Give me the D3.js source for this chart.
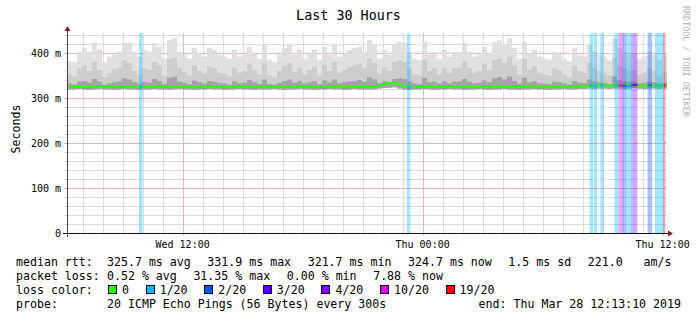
<!DOCTYPE html>
<html>
<head>
<meta charset="utf-8">
<script src="https://cdn.jsdelivr.net/npm/d3@7"></script>
<style>
  body { margin: 0; background: #fff; }
  svg text { font-family: "DejaVu Sans Mono", monospace; white-space: pre; }
</style>
</head>
<body>
<svg id="chart"></svg>
<script>
// ---- data ----
// 120 slots of 15 minutes over the last 30 hours, values in ms
const smokeMax = [
  381,377,403,411,403,422,407,377,392,396, 403,422,422,403,392,407,403,422,414,388,
  429,433,403,396,388,411,399,392,411,407, 396,392,388,407,392,396,414,399,388,418,
  385,377,396,411,418,396,407,388,399,407, 385,414,396,418,392,399,407,411,414,403,
  429,418,388,407,396,418,425,422,403,388, 385,425,396,403,388,407,392,403,403,422,
  403,392,396,414,399,425,429,418,433,411, 388,425,399,407,392,388,385,403,399,388,
  381,411,396,392,418,403,396,392,385,433, 411,403,396,399,388,392,403,396,385,396
];
const smokeMid = [
  352,348,366,372,360,380,362,346,356,364, 368,384,378,360,352,366,362,380,372,350,
  386,390,366,358,350,372,360,354,370,366, 356,354,348,368,356,360,376,362,352,378,
  350,346,360,372,378,358,368,352,362,370, 350,374,360,380,356,362,368,372,376,366,
  388,378,354,368,360,380,384,380,366,352, 350,386,360,366,352,368,356,366,368,382,
  366,356,360,376,362,384,388,378,392,372, 352,386,362,370,356,352,350,366,362,352,
  346,372,360,356,378,366,360,356,350,390, 372,366,360,362,352,356,366,360,350,358
];
const smokeDark = [
  332,330,336,338,334,342,336,330,333,335, 337,344,341,335,332,336,334,342,338,331,
  345,347,336,334,331,339,335,332,338,336, 333,332,330,337,333,334,340,335,331,341,
  331,330,334,338,341,334,337,332,335,337, 331,339,334,341,333,335,337,338,340,336,
  346,341,333,337,335,342,344,342,337,332, 331,345,335,336,332,337,333,336,337,342,
  336,333,334,339,335,344,346,341,348,338, 332,345,335,337,333,332,331,336,335,332,
  330,338,334,333,341,337,335,334,331,348, 340,337,336,336,333,334,337,335,332,334
];
const smokeMin = [
  319,319,320,319,318,319,320,319,319,318, 319,320,319,319,318,319,319,320,319,319,
  318,319,320,319,319,318,319,319,320,319, 319,318,319,319,320,319,319,318,319,319,
  319,320,319,318,319,319,320,319,319,318, 319,319,320,319,319,318,319,320,319,319,
  319,319,321,322,323,324,321,319,318,319, 319,320,319,318,319,319,320,319,319,318,
  319,319,320,319,318,319,319,320,319,319, 318,319,319,320,319,319,318,319,319,320,
  319,319,320,320,321,320,321,321,320,321, 321,320,321,322,321,320,321,321,320,321
];
const median = [
  325,326,325,324,325,326,325,325,326,325, 324,325,325,326,325,325,324,325,326,325,
  325,324,325,326,325,325,324,325,326,325, 325,324,325,325,326,325,325,324,325,326,
  325,325,326,325,324,325,325,326,325,325, 324,325,326,325,325,325,324,325,325,326,
  325,325,328,331,332,335,330,326,325,324, 325,325,326,325,324,325,325,326,325,325,
  325,325,324,325,325,326,325,325,324,325, 325,326,325,325,324,325,325,326,325,325,
  325,325,326,327,328,327,328,328,327,328, 328,327,328,329,328,327,328,328,327,328
];
// loss events: minutes from window start, duration in minutes, lost pings of 20
const lossStart = [216, 1020, 1568, 1580, 1600, 1642, 1655, 1667, 1679, 1691, 1697, 1742, 1764, 1791];
const lossMins  = [ 11,   10,   10,   10,   10,   13,   13,   12,   12,    6,   14,   13,   27,    4];
const lossCount = [  1,    1,    1,    1,    1,    1,   10,    2,    1,    2,    4,    2,    1,   19];

const lossLevels = [0, 1, 2, 3, 4, 10, 19];
const lossLabels = ["0", "1/20", "2/20", "3/20", "4/20", "10/20", "19/20"];
const lossColors = ["#26ff00", "#00b8ff", "#0059ff", "#5e00ff", "#7e00ff", "#dd00ff", "#ff0000"];

const yTicks = [0, 100, 200, 300, 400];
const yTickLabels = ["0", "100 m", "200 m", "300 m", "400 m"];
const xTickLabels = ["Wed 12:00", "Thu 00:00", "Thu 12:00"];

const statsRtt = ["325.7 ms avg", "331.9 ms max", "321.7 ms min", "324.7 ms now", "1.5 ms sd", "221.0   am/s"];
const statsLoss = ["0.52 % avg", "31.35 % max", "0.00 % min", "7.88 % now"];
const probeText = "20 ICMP Echo Pings (56 Bytes) every 300s";
const endText = "end: Thu Mar 28 12:13:10 2019";

// ---- layout ----
const width = 697, height = 321;
const plotL = 67, plotR = 667, plotT = 33, plotB = 233;
const cw = 6.97;          // legend char width
const gap = 16.7;

const svg = d3.select("#chart").attr("width", width).attr("height", height);
svg.append("rect").attr("width", width).attr("height", height).attr("fill", "#fff");

const endTime = new Date(2019, 2, 28, 12, 13, 10);
const startTime = new Date(endTime.getTime() - 30 * 3600e3);
const slotTime = i => new Date(startTime.getTime() + i * 15 * 60e3);
const minTime = m => new Date(startTime.getTime() + m * 60e3);

const x = d3.scaleTime().domain([startTime, endTime]).range([plotL, plotR]);
const y = d3.scaleLinear().domain([0, 444.44]).range([plotB, plotT]);

// grid
const grid = svg.append("g").attr("shape-rendering", "crispEdges");
grid.selectAll(".vmin").data(x.ticks(d3.timeHour.every(1))).join("line")
  .attr("x1", d => Math.round(x(d)) + 0.5).attr("x2", d => Math.round(x(d)) + 0.5)
  .attr("y1", plotT).attr("y2", plotB).attr("stroke", "#dedede");
grid.selectAll(".hmin").data(d3.range(20, 441, 20)).join("line")
  .attr("x1", plotL - 3).attr("x2", plotR)
  .attr("y1", d => Math.round(y(d)) + 0.5).attr("y2", d => Math.round(y(d)) + 0.5)
  .attr("stroke", "#dedede");
const majorX = x.ticks(d3.timeHour.every(12));
grid.selectAll(".vmaj").data(majorX).join("line")
  .attr("x1", d => Math.round(x(d)) + 0.5).attr("x2", d => Math.round(x(d)) + 0.5)
  .attr("y1", plotT).attr("y2", plotB + 3).attr("stroke", "#f5b4b4");
grid.selectAll(".hmaj").data(yTicks.slice(1)).join("line")
  .attr("x1", plotL - 3).attr("x2", plotR)
  .attr("y1", d => Math.round(y(d)) + 0.5).attr("y2", d => Math.round(y(d)) + 0.5)
  .attr("stroke", "#f5b4b4");

// smoke
const idx = d3.range(smokeMax.length + 1);
const at = (arr, i) => arr[Math.min(i, arr.length - 1)];
const band = (lo, hi) => d3.area().curve(d3.curveStepAfter)
  .x(i => x(slotTime(i)))
  .y0(i => y(at(lo, i))).y1(i => y(at(hi, i)));
svg.append("path").attr("d", band(smokeMin, smokeMax)(idx)).attr("fill", "#dedede").attr("fill-opacity", 0.9);
svg.append("path").attr("d", band(smokeMin, smokeMid)(idx)).attr("fill", "#cdcdcd");
svg.append("path").attr("d", band(smokeMin, smokeDark)(idx)).attr("fill", "#a4a4a4");

// loss background bands
const colorFor = c => lossColors[d3.bisectRight(lossLevels, c) - 1];
svg.append("g").selectAll("rect").data(lossStart).join("rect")
  .attr("x", (d) => x(minTime(d)))
  .attr("width", (d, i) => x(minTime(d + lossMins[i])) - x(minTime(d)))
  .attr("y", plotT).attr("height", plotB - plotT)
  .attr("fill", (d, i) => colorFor(lossCount[i])).attr("fill-opacity", 0.35);

// median
const line = d3.line().x(i => x(slotTime(i)) + 2.5).y(i => y(median[i]));
svg.append("path").attr("d", line(d3.range(median.length)))
  .attr("fill", "none").attr("stroke", lossColors[0]).attr("stroke-width", 2);
const medAt = m => median[Math.min(Math.floor(m / 15), median.length - 1)];
svg.append("g").selectAll("line").data(lossStart).join("line")
  .attr("x1", d => x(minTime(d))).attr("x2", (d, i) => x(minTime(d + lossMins[i])))
  .attr("y1", d => y(medAt(d))).attr("y2", d => y(medAt(d)))
  .attr("stroke", (d, i) => colorFor(lossCount[i])).attr("stroke-width", 2);

// axes
const ax = svg.append("g").attr("shape-rendering", "crispEdges");
ax.append("line").attr("x1", plotL + 0.5).attr("x2", plotL + 0.5).attr("y1", plotB + 4).attr("y2", plotT - 4).attr("stroke", "#444");
ax.append("line").attr("x1", plotL - 4).attr("x2", plotR + 2).attr("y1", plotB + 0.5).attr("y2", plotB + 0.5).attr("stroke", "#111");
svg.append("path").attr("d", `M${plotL - 2.5},${plotT - 2} L${plotL + 0.5},${plotT - 7} L${plotL + 3.5},${plotT - 2}Z`).attr("fill", "#8b1a1a");
svg.append("path").attr("d", `M${plotR + 1},${plotB - 2.5} L${plotR + 6},${plotB + 0.5} L${plotR + 1},${plotB + 3.5}Z`).attr("fill", "#8b1a1a");

svg.append("g").selectAll("text").data(yTicks).join("text")
  .attr("x", 61).attr("y", d => y(d) + 4)
  .attr("text-anchor", "end").attr("font-size", "10px").text((d, i) => yTickLabels[i]);
svg.append("g").selectAll("text").data(majorX).join("text")
  .attr("x", d => x(d)).attr("y", 248)
  .attr("text-anchor", "middle").attr("font-size", "10px").text((d, i) => xTickLabels[i]);

// titles
svg.append("text").attr("x", 348.5).attr("y", 20).attr("text-anchor", "middle")
  .attr("font-size", "13.4px").text("Last 30 Hours");
svg.append("text").attr("transform", "translate(19.5,129) rotate(-90)").attr("text-anchor", "middle")
  .attr("font-size", "11.6px").text("Seconds");
svg.append("text").attr("transform", "translate(683,6) rotate(90)")
  .attr("font-size", "8.4px").attr("fill", "#b4b4b4").text("RRDTOOL / TOBI OETIKER");

// legend
const leg = svg.append("g").attr("font-size", "11.6px");
const rowY = [265.5, 279.5, 293.5, 307.5];
const col2 = 107;
function row(label, items, yy) {
  leg.append("text").attr("x", 16).attr("y", yy).text(label);
  let xx = col2;
  items.forEach(t => {
    leg.append("text").attr("x", xx).attr("y", yy).text(t);
    xx += t.length * cw + gap;
  });
}
row("median rtt:", statsRtt, rowY[0]);
row("packet loss:", statsLoss, rowY[1]);
leg.append("text").attr("x", 16).attr("y", rowY[2]).text("loss color:");
let bx = 108;
lossLabels.forEach((t, i) => {
  leg.append("rect").attr("x", bx + 0.5).attr("y", rowY[2] - 8.5).attr("width", 8).attr("height", 8)
    .attr("fill", lossColors[i]).attr("stroke", "#000").attr("shape-rendering", "crispEdges");
  leg.append("text").attr("x", bx + 14).attr("y", rowY[2]).text(t);
  bx += 14 + t.length * cw + gap;
});
leg.append("text").attr("x", 16).attr("y", rowY[3]).text("probe:");
leg.append("text").attr("x", col2).attr("y", rowY[3]).text(probeText);
leg.append("text").attr("x", 681).attr("y", rowY[3]).attr("text-anchor", "end").text(endText);
</script>
</body>
</html>
